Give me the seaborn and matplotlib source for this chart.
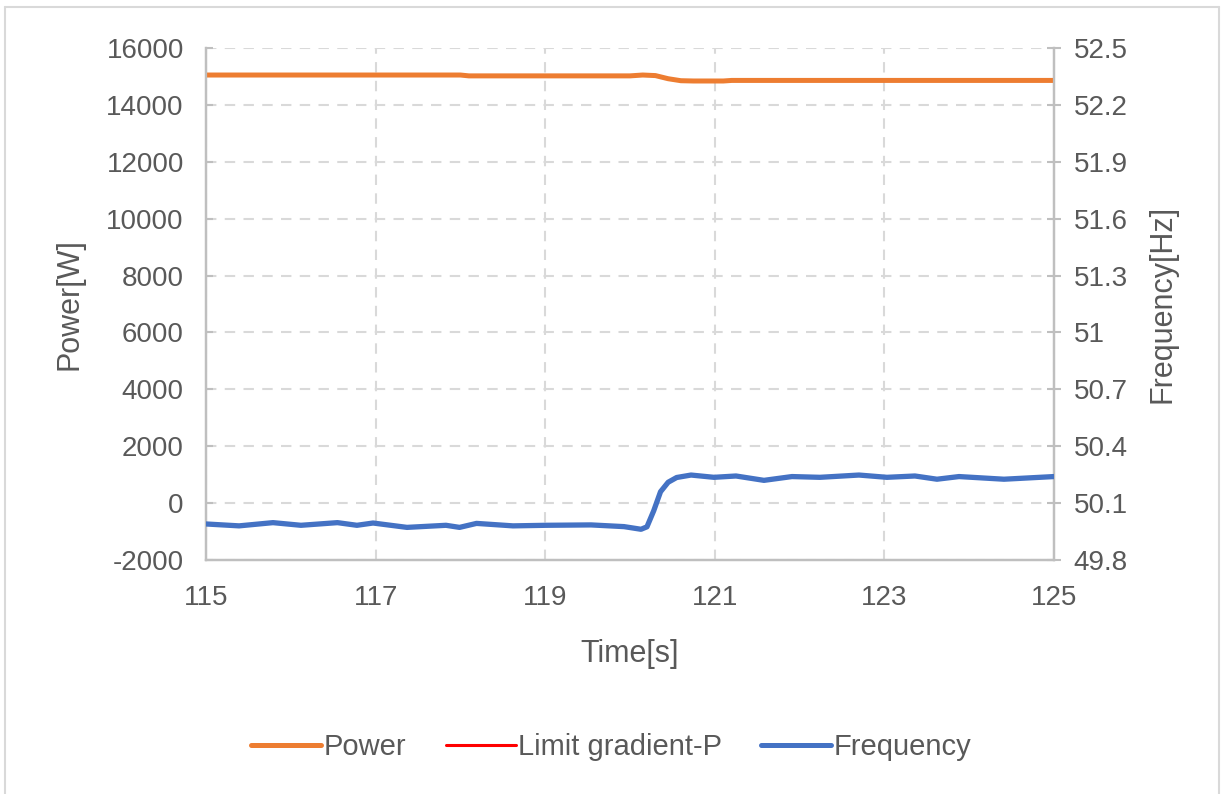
import matplotlib
matplotlib.use("Agg")
import matplotlib.pyplot as plt
import seaborn as sns
import pandas as pd
from matplotlib.lines import Line2D

# datos
t_power = [115.0, 116.5, 118.0, 118.1, 119.5, 120.0, 120.15, 120.3, 120.45, 120.6, 120.75, 121.1, 121.2, 123.0, 125.0]
power = [15050, 15050, 15050, 15020, 15020, 15020, 15050, 15030, 14920, 14850, 14840, 14840, 14860, 14860, 14860]

t_limit = []
limit_gradient = []

t_freq = [115.0, 115.39, 115.79, 116.12, 116.55, 116.78, 116.97, 117.37, 117.83, 117.99, 118.19,
          118.62, 119.01, 119.54, 119.93, 120.13, 120.2, 120.28, 120.36, 120.45, 120.55, 120.72,
          120.99, 121.25, 121.58, 121.91, 122.24, 122.7, 123.03, 123.36, 123.62, 123.88, 124.41, 125.0]
frequency = [49.99, 49.98, 49.997, 49.983, 49.997, 49.983, 49.995, 49.972, 49.983, 49.972, 49.993,
             49.98, 49.983, 49.985, 49.976, 49.962, 49.975, 50.06, 50.16, 50.21, 50.235, 50.248,
             50.236, 50.243, 50.22, 50.24, 50.236, 50.248, 50.236, 50.243, 50.226, 50.24, 50.226, 50.24]

x_ticks = [115, 117, 119, 121, 123, 125]
y_ticks = list(range(-2000, 16001, 2000))
f_ticks = [49.8, 50.1, 50.4, 50.7, 51.0, 51.3, 51.6, 51.9, 52.2, 52.5]
f_labels = ["49.8", "50.1", "50.4", "50.7", "51", "51.3", "51.6", "51.9", "52.2", "52.5"]

NARANJA = "#ED7D31"
ROJO = "#FF0000"
AZUL = "#4472C4"
GRIS_TXT = "#595959"
GRIS_EJE = "#BFBFBF"
GRIS_GRID = "#D9D9D9"

sns.set_style("white")
plt.rcParams["font.family"] = ["Liberation Sans", "DejaVu Sans"]
plt.rcParams["axes.unicode_minus"] = False

fig = plt.figure(figsize=(12.23, 7.94), dpi=100)
ax = fig.add_axes([206 / 1223, 1 - 560 / 794, 848 / 1223, 512 / 794])
ax2 = ax.twinx()

df_p = pd.DataFrame({"t": t_power, "v": power})
df_l = pd.DataFrame({"t": t_limit, "v": limit_gradient}, dtype=float)
df_f = pd.DataFrame({"t": t_freq, "v": frequency})

sns.lineplot(data=df_p, x="t", y="v", ax=ax, color=NARANJA, linewidth=3.6, zorder=3)
if len(df_l):
    sns.lineplot(data=df_l, x="t", y="v", ax=ax, color=ROJO, linewidth=2.2, zorder=3)
sns.lineplot(data=df_f, x="t", y="v", ax=ax2, color=AZUL, linewidth=3.8, zorder=3)

ax.set_xlim(115, 125)
ax.set_ylim(-2000, 16000)
ax2.set_ylim(49.8, 52.5)
ax.set_xticks(x_ticks)
ax.set_yticks(y_ticks)
ax2.set_yticks(f_ticks)
ax2.set_yticklabels(f_labels)

# rejilla discontinua
ax.grid(True, color=GRIS_GRID, linestyle=(0, (5, 4)), linewidth=1.5)
ax.set_axisbelow(True)

for a in (ax, ax2):
    a.spines["top"].set_visible(False)
    for lado in ("left", "right", "bottom"):
        a.spines[lado].set_color(GRIS_EJE)
        a.spines[lado].set_linewidth(1.6)

ax.tick_params(axis="x", colors=GRIS_EJE, labelcolor=GRIS_TXT, labelsize=20,
               direction="in", length=6, width=1.5, pad=18)
ax.tick_params(axis="y", colors=GRIS_EJE, labelcolor=GRIS_TXT, labelsize=20,
               direction="in", length=5, width=1.5, pad=16)
ax2.tick_params(axis="y", colors=GRIS_EJE, labelcolor=GRIS_TXT, labelsize=20,
                direction="inout", length=10, width=1.5, pad=9)

ax.set_xlabel("Time[s]", fontsize=22, color=GRIS_TXT, labelpad=20)
ax.set_ylabel("Power[W]", fontsize=22, color=GRIS_TXT, labelpad=16)
ax2.set_ylabel("Frequency[Hz]", fontsize=22, color=GRIS_TXT, labelpad=14)

handles = [Line2D([], [], color=NARANJA, linewidth=3.6),
           Line2D([], [], color=ROJO, linewidth=2.2),
           Line2D([], [], color=AZUL, linewidth=3.6)]
fig.legend(handles, ["Power", "Limit gradient-P", "Frequency"], loc="center",
           bbox_to_anchor=(0.5, 1 - 747 / 794), ncol=3, frameon=False, fontsize=21,
           labelcolor=GRIS_TXT, handlelength=2.4, handletextpad=0.08, columnspacing=1.35)

# borde del área del gráfico
borde = dict(color="#D9D9D9", linewidth=1.5, transform=fig.transFigure)
fig.add_artist(Line2D([5 / 1223, 5 / 1223], [0, 1 - 7 / 794], **borde))
fig.add_artist(Line2D([5 / 1223, 1219 / 1223], [1 - 7 / 794, 1 - 7 / 794], **borde))
fig.add_artist(Line2D([1219 / 1223, 1219 / 1223], [0, 1 - 7 / 794], **borde))

fig.savefig("out.png", dpi=100)
